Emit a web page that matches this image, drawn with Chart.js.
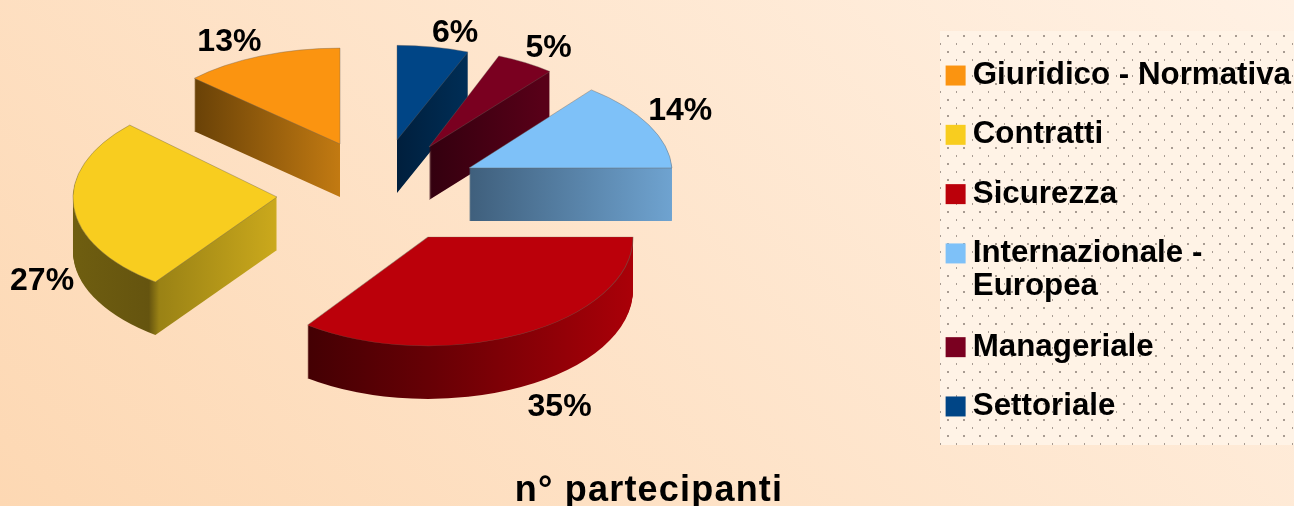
<!DOCTYPE html>
<html>
<head>
<meta charset="utf-8">
<title>n° partecipanti</title>
<script src="https://cdn.jsdelivr.net/npm/chart.js@4/dist/chart.umd.min.js"></script>
<style>
  html, body { margin: 0; padding: 0; }
  body {
    width: 1294px; height: 506px; overflow: hidden; position: relative;
    background: linear-gradient(45deg, #fdd8b3 0%, #fff1e4 100%);
  }
  #legendBack {
    position: absolute; left: 940px; top: 31px; width: 354px; height: 414px;
    background-color: #fff3e6;
    background-image:
      radial-gradient(circle at 8px 5px, #a89c92 0.9px, transparent 1.4px),
      radial-gradient(circle at 0px 13px, #a89c92 0.9px, transparent 1.4px);
    background-size: 16px 16px;
  }
  #chartBox { position: absolute; left: 0; top: 0; width: 1294px; height: 506px; }
</style>
</head>
<body>
<div id="legendBack"></div>
<div id="chartBox"><canvas id="pieChart"></canvas></div>
<script>
// dati, in senso orario dalle ore 12
const categories = ['Settoriale', 'Manageriale', ['Internazionale -', 'Europea'], 'Sicurezza', 'Contratti', 'Giuridico - Normativa'];
const values = [6, 5, 14, 35, 27, 13];
const chartTitle = 'n° partecipanti';

// colori
const topColors = ['#004586', '#7a0020', '#7ec1f8', '#bb000a', '#f8cd1f', '#fb9410'];
// colori delle pareti: [posizione 0..1 sul diametro, colore]
const wallStops = [
  [[0.5, '#001f3d'], [0.7, '#002f58']],
  [[0.5, '#33000f'], [0.8, '#580018']],
  [[0.5, '#3f5f7c'], [1, '#6fa3d0']],
  [[0.2, '#430003'], [0.5, '#660005'], [1, '#aa0008']],
  [[0, '#6f5e10'], [0.19, '#65540f'], [0.215, '#9a8215'], [0.5, '#cba91c']],
  [[0.14, '#6a4207'], [0.5, '#c27a12']]
];

// geometria 3D (le fette dietro sono un po' piu' piccole, per la prospettiva)
const depth = 53;
const pieRadius = 204;
const labelGap = 34;
const pieCenterX = 386;
const pieCenterY = 193;
const explodeX = [11, 43, 83, 42, -109, -46];
const explodeY = [-53, -46, -25, 44, 4, -49];
const sliceScale = [0.946, 0.93, 0.995, 1.005, 1, 0.98];
const sliceTilt = [0.464, 0.48, 0.497, 0.534, 0.515, 0.47];
const sliceShear = [0, 0, 0.09, 0, -0.02, 0];
// spostamento delle etichette rispetto al bordo della fetta
const labelShift = [[16, 1.5], [7, -0.5], [-3, -6.5], [23, 56.5], [2, 72.5], [-18, 0.5]];

function sliceMatrix(ctx, arc, i, drop) {
  ctx.translate(pieCenterX + explodeX[i], pieCenterY + explodeY[i] + drop);
  ctx.transform(1, 0, sliceShear[i], 1, 0, 0);
  ctx.scale(sliceScale[i], sliceTilt[i]);
  ctx.translate(-arc.x, -arc.y);
}

// disegna le fette come solidi, da dietro verso davanti
const pie3d = {
  id: 'pie3d',
  afterLayout(chart) {
    // il titolo ha le lettere un po' spaziate
    const box = chart.titleBlock;
    if (box.spaced) return;
    const drawTitle = box.draw;
    box.draw = function() {
      chart.ctx.letterSpacing = '1.2px';
      drawTitle.call(box);
      chart.ctx.letterSpacing = '0px';
    };
    box.spaced = true;
  },
  beforeDatasetsDraw(chart) {
    const ctx = chart.ctx;
    const arcs = chart.getDatasetMeta(0).data;
    const order = arcs.map((arc, i) => i).sort((a, b) => explodeY[a] - explodeY[b]);
    order.forEach(i => {
      const arc = arcs[i];
      const grad = ctx.createLinearGradient(arc.x - pieRadius, 0, arc.x + pieRadius, 0);
      wallStops[i].forEach(s => grad.addColorStop(s[0], s[1]));
      const wall = Object.create(arc);
      wall.options = Object.assign({}, arc.options, { backgroundColor: grad });
      for (let d = depth; d > 0; d--) {
        ctx.save();
        sliceMatrix(ctx, arc, i, d);
        wall.draw(ctx);
        ctx.restore();
      }
      const top = Object.create(arc);
      top.options = Object.assign({}, arc.options, { borderWidth: 1, borderColor: 'rgba(110, 100, 90, 0.55)' });
      ctx.save();
      sliceMatrix(ctx, arc, i, 0);
      top.draw(ctx);
      ctx.restore();
    });
    return false;
  },
  afterDraw(chart) {
    const ctx = chart.ctx;
    chart.getDatasetMeta(0).data.forEach((arc, i) => {
      const mid = (arc.startAngle + arc.endAngle) / 2;
      const r = pieRadius + labelGap;
      ctx.save();
      ctx.font = 'bold 32px "Liberation Sans"';
      ctx.fillStyle = '#000';
      ctx.textAlign = 'center';
      ctx.textBaseline = 'middle';
      ctx.fillText(values[i] + '%',
        pieCenterX + explodeX[i] + Math.cos(mid) * r * sliceScale[i] + labelShift[i][0],
        pieCenterY + explodeY[i] + Math.sin(mid) * r * sliceTilt[i] + labelShift[i][1]);
      ctx.restore();
    });
  }
};

new Chart(document.getElementById('pieChart'), {
  type: 'pie',
  data: {
    labels: categories,
    datasets: [{
      data: values,
      backgroundColor: topColors,
      borderWidth: 0
    }]
  },
  options: {
    responsive: true,
    maintainAspectRatio: false,
    animation: false,
    radius: pieRadius,
    layout: { padding: { left: -3, right: -7, top: -24, bottom: 0 } },
    plugins: {
      tooltip: { enabled: false },
      title: {
        display: true,
        text: chartTitle,
        position: 'bottom',
        color: '#000',
        font: { family: '"Liberation Sans"', size: 36, weight: 'bold' },
        padding: { top: 8, bottom: -7 }
      },
      legend: {
        position: 'right',
        reverse: true,
        labels: {
          color: '#000',
          font: { family: '"Liberation Sans"', size: 31.3, weight: 'bold', lineHeight: 1.05 },
          usePointStyle: true,
          pointStyle: 'rect',
          boxWidth: 3,
          boxHeight: 20,
          padding: 28
        }
      }
    }
  },
  plugins: [pie3d]
});
</script>
</body>
</html>
